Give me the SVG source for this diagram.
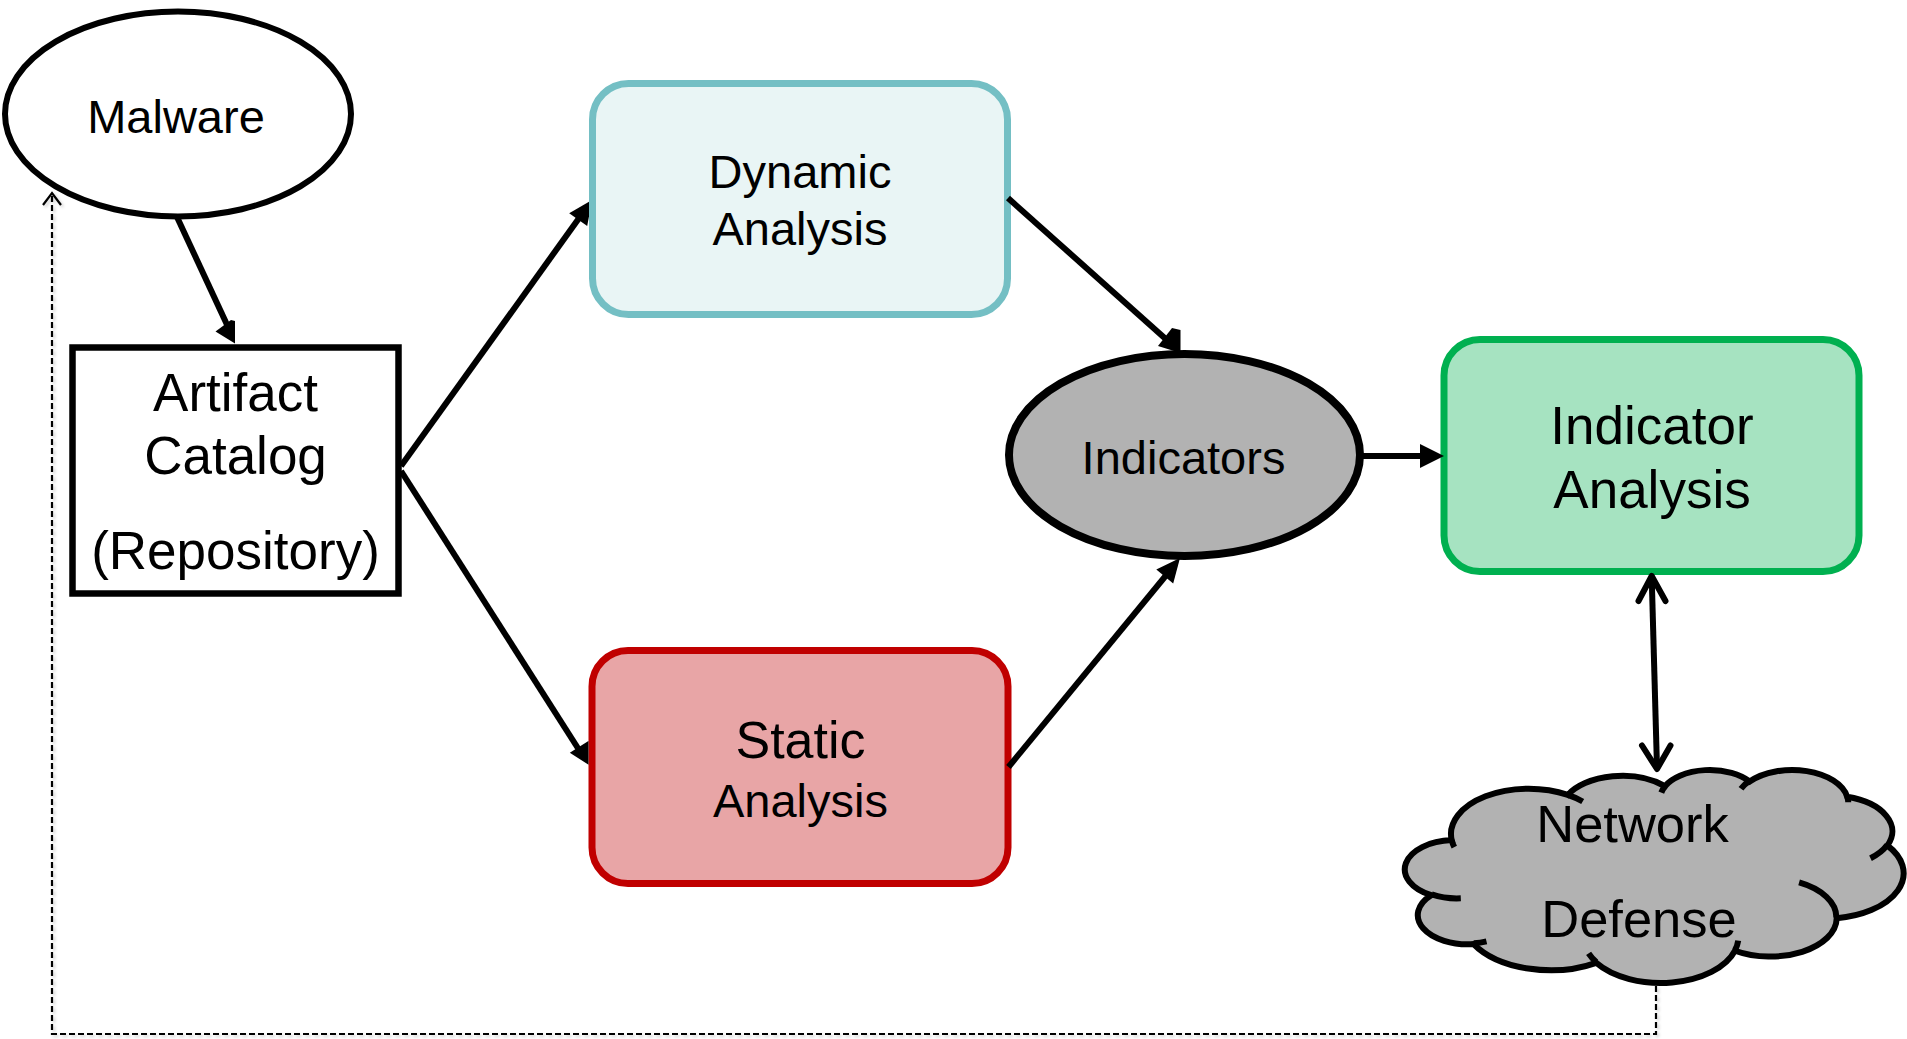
<svg xmlns="http://www.w3.org/2000/svg" width="1907" height="1039" viewBox="0 0 1907 1039">
<style>
text{font-family:"Liberation Sans",Arial,sans-serif;fill:#000;text-anchor:middle}
.ln{stroke:#000;stroke-width:6;fill:none}
.hd{fill:#000;stroke:none}
.open{stroke:#000;stroke-width:6;fill:none;stroke-linecap:round;stroke-linejoin:round}
.dash{stroke:#000;stroke-width:2.2;fill:none;stroke-dasharray:6 3}
</style>
<defs>
<filter id="sh" x="-5%" y="-5%" width="110%" height="110%">
<feDropShadow dx="2" dy="2" stdDeviation="1.5" flood-color="#000" flood-opacity="0.18"/>
</filter>
</defs>
<rect width="1907" height="1039" fill="#fff"/>

<g id="malware">
<ellipse cx="178" cy="114" rx="173" ry="102.4" fill="#fff" stroke="#000" stroke-width="6"/>
<text x="176" y="132.5" font-size="47">Malware</text>
</g>

<g id="artifact-catalog">
<rect x="72.5" y="347.5" width="326" height="246" fill="#fff" stroke="#000" stroke-width="6.5"/>
<text x="235.5" y="411" font-size="53">Artifact</text>
<text x="235.5" y="474" font-size="53">Catalog</text>
<text x="235.5" y="569" font-size="53">(Repository)</text>
</g>

<g id="dynamic-analysis">
<rect x="592.5" y="83.5" width="415" height="231" rx="36" ry="36" fill="#E9F5F5" stroke="#74BFC4" stroke-width="7"/>
<text x="800" y="188" font-size="47">Dynamic</text>
<text x="800" y="245" font-size="47">Analysis</text>
</g>

<g id="static-analysis">
<rect x="592" y="650.5" width="416" height="233" rx="36" ry="36" fill="#E8A5A6" stroke="#C00000" stroke-width="7"/>
<text x="800.5" y="758" font-size="52">Static</text>
<text x="800.5" y="817" font-size="47">Analysis</text>
</g>

<g id="indicators">
<ellipse cx="1184.5" cy="455" rx="175.5" ry="101" fill="#B2B2B2" stroke="#000" stroke-width="8"/>
<text x="1183.5" y="473.5" font-size="47">Indicators</text>
</g>

<g id="indicator-analysis">
<rect x="1444" y="339.5" width="415" height="232" rx="36" ry="36" fill="#A6E3C1" stroke="#00B050" stroke-width="7"/>
<text x="1652" y="444" font-size="53">Indicator</text>
<text x="1652" y="508" font-size="53">Analysis</text>
</g>

<g id="network-defense">
<path d="M1451.7,840.1 A77.6,45.3 0 0 1 1567.8,794.9 A61.3,35.8 0 0 1 1664.9,786.2 A50.2,29.3 0 0 1 1749.7,781.5 A55.8,32.5 0 0 1 1847.2,796.8 A61.3,35.8 0 0 1 1887.4,845.5 A77.9,45.4 0 0 1 1836.7,918.2 A66.5,38.8 0 0 1 1735,950.7 A77.6,45.4 0 0 1 1596.2,962.8 A88.7,52 0 0 1 1473.6,944.1 A50.1,29.2 0 0 1 1431.2,895.2 A49.9,29.3 0 0 1 1451.7,840.1 Z" fill="#B2B2B2" stroke="#000" stroke-width="6"/>
<path d="M1460.8,898.3 A49.9,29.3 0 0 1 1431.7,894.4 M1486.5,941.3 A50.1,29.2 0 0 1 1473.8,943.2 M1596.2,962 A77.6,45.4 0 0 1 1588.6,953.4 M1738.2,940.6 A77.6,45.4 0 0 1 1735.1,950 M1799.1,882.4 A66.5,38.8 0 0 1 1836.4,917.6 M1887.2,845 A61.3,35.8 0 0 1 1870.5,858.2 M1847.3,796 A55.8,32.5 0 0 1 1848.2,802.3 M1741,788.8 A55.8,32.5 0 0 1 1749.6,780.8 M1661.3,792.6 A50.2,29.3 0 0 1 1665.5,785.7 M1567.8,794.9 A77.6,45.3 0 0 1 1582.7,801.5 M1454.3,847.1 A77.6,45.3 0 0 1 1451.7,840.1" fill="none" stroke="#000" stroke-width="6"/>
<text x="1632.5" y="841.5" font-size="52.5">Network</text>
<text x="1639" y="936.5" font-size="52.5">Defense</text>
</g>

<g id="connectors">
<line class="ln" x1="177" y1="217" x2="229" y2="329"/>
<polygon class="hd" points="215.5,331.5 235,343.5 235,321 231,320"/>

<line class="ln" x1="401" y1="466" x2="582" y2="214"/>
<polygon class="hd" points="569.2,213.3 589,201.8 589,216.2 587.2,225.9"/>

<line class="ln" x1="401" y1="471" x2="581" y2="753"/>
<polygon class="hd" points="569.8,752.7 588.5,764.7 588.5,741.6 588.4,740.9"/>

<line class="ln" x1="1008" y1="198" x2="1168" y2="341"/>
<polygon class="hd" points="1158,346 1180.5,353 1180.5,330 1172,328"/>

<line class="ln" x1="1008.5" y1="767" x2="1168" y2="573"/>
<polygon class="hd" points="1156.3,569.5 1180,558 1173.2,583.5"/>

<line class="ln" x1="1362" y1="456" x2="1424" y2="456"/>
<polygon class="hd" points="1420,444 1444,456 1420,468"/>

<line class="ln" x1="1651.7" y1="577" x2="1657" y2="768" stroke-width="5.5"/>
<path class="open" d="M1638.5,601 L1651.7,576 L1665.5,601"/>
<path class="open" d="M1642,745.5 L1657,769 L1670.5,745.5"/>

<g filter="url(#sh)">
<path class="dash" d="M1656,986 V1034 H52 V194"/>
<path d="M43,205 L52,193 L61,205" fill="none" stroke="#000" stroke-width="2.2"/>
</g>
</g>
</svg>
